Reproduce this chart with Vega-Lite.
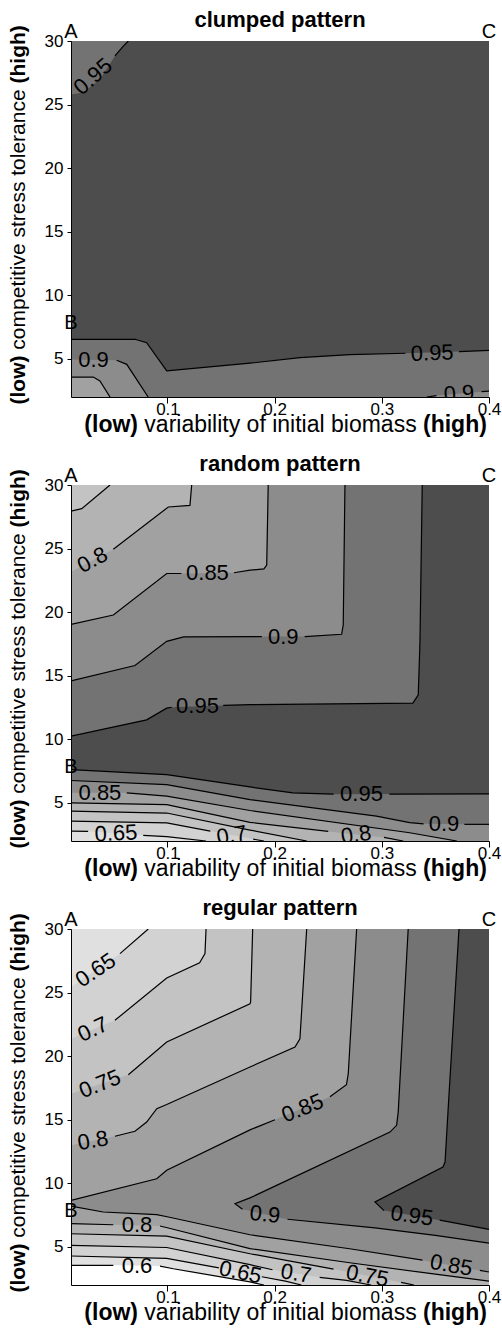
{
"$schema": "https://vega.github.io/schema/vega-lite/v6.json",
"padding": {"left": 7, "right": 4, "top": 9, "bottom": 3},
"spacing": 17,
"config": {
 "view": {"stroke": null, "fill": "#4d4d4d"},
 "font": "Liberation Sans",
 "title": {"fontSize": 22, "fontWeight": "bold", "color": "black", "offset": -10, "font": "Liberation Sans"},
 "axis": {"grid": false, "labelFont": "Liberation Sans", "titleFont": "Liberation Sans", "labelColor": "black", "titleColor": "black", "tickColor": "black", "domainColor": "black", "labelFontSize": 17, "labelFlush": false, "labelOverlap": false},
 "text": {"font": "Liberation Sans"}
},
"datasets": {
"poly": [
{"p":1,"g":1,"lvl":0.95,"s":0,"x":0.01,"y":25.8},{"p":1,"g":1,"lvl":0.95,"s":0,"x":0.0215,"y":25.94},{"p":1,"g":1,"lvl":0.95,"s":0,"x":0.037,"y":27.0},{"p":1,"g":1,"lvl":0.95,"s":1,"x":0.051,"y":28.83},{"p":1,"g":1,"lvl":0.95,"s":1,"x":0.0588,"y":29.6},{"p":1,"g":1,"lvl":0.95,"s":1,"x":0.0635,"y":30},{"p":1,"g":1,"lvl":0.95,"s":0,"x":0.01,"y":30},
{"p":1,"g":2,"lvl":0.95,"s":2,"x":0.01,"y":6.54},{"p":1,"g":2,"lvl":0.95,"s":2,"x":0.0697,"y":6.54},{"p":1,"g":2,"lvl":0.95,"s":2,"x":0.0806,"y":6.27},{"p":1,"g":2,"lvl":0.95,"s":2,"x":0.0993,"y":4.05},{"p":1,"g":2,"lvl":0.95,"s":2,"x":0.177,"y":4.66},{"p":1,"g":2,"lvl":0.95,"s":2,"x":0.2236,"y":5.1},{"p":1,"g":2,"lvl":0.95,"s":2,"x":0.27,"y":5.33},{"p":1,"g":2,"lvl":0.95,"s":2,"x":0.322,"y":5.44},{"p":1,"g":2,"lvl":0.95,"s":3,"x":0.372,"y":5.57},{"p":1,"g":2,"lvl":0.95,"s":3,"x":0.4,"y":5.67},{"p":1,"g":2,"lvl":0.95,"s":0,"x":0.4,"y":2},{"p":1,"g":2,"lvl":0.95,"s":0,"x":0.01,"y":2},
{"p":1,"g":3,"lvl":0.9,"s":0,"x":0.01,"y":4.95},{"p":1,"g":3,"lvl":0.9,"s":4,"x":0.0526,"y":4.89},{"p":1,"g":3,"lvl":0.9,"s":4,"x":0.062,"y":4.57},{"p":1,"g":3,"lvl":0.9,"s":4,"x":0.082,"y":2},{"p":1,"g":3,"lvl":0.9,"s":0,"x":0.01,"y":2},
{"p":1,"g":4,"lvl":0.9,"s":5,"x":0.342,"y":2},{"p":1,"g":4,"lvl":0.9,"s":5,"x":0.351,"y":2.11},{"p":1,"g":4,"lvl":0.9,"s":6,"x":0.393,"y":2.42},{"p":1,"g":4,"lvl":0.9,"s":6,"x":0.4,"y":2.47},{"p":1,"g":4,"lvl":0.9,"s":0,"x":0.4,"y":2},
{"p":1,"g":5,"lvl":0.85,"s":7,"x":0.01,"y":3.57},{"p":1,"g":5,"lvl":0.85,"s":7,"x":0.0308,"y":3.57},{"p":1,"g":5,"lvl":0.85,"s":7,"x":0.037,"y":3.26},{"p":1,"g":5,"lvl":0.85,"s":7,"x":0.0464,"y":2},{"p":1,"g":5,"lvl":0.85,"s":0,"x":0.01,"y":2},

{"p":2,"g":1,"lvl":0.95,"s":11,"x":0.01,"y":10.24},{"p":2,"g":1,"lvl":0.95,"s":11,"x":0.0806,"y":11.53},{"p":2,"g":1,"lvl":0.95,"s":11,"x":0.0993,"y":12.45},{"p":2,"g":1,"lvl":0.95,"s":11,"x":0.104,"y":12.52},{"p":2,"g":1,"lvl":0.95,"s":12,"x":0.152,"y":12.66},{"p":2,"g":1,"lvl":0.95,"s":12,"x":0.177,"y":12.72},{"p":2,"g":1,"lvl":0.95,"s":12,"x":0.329,"y":12.85},{"p":2,"g":1,"lvl":0.95,"s":12,"x":0.334,"y":13.5},{"p":2,"g":1,"lvl":0.95,"s":12,"x":0.3356,"y":17.7},{"p":2,"g":1,"lvl":0.95,"s":12,"x":0.3377,"y":30},{"p":2,"g":1,"lvl":0.95,"s":0,"x":0.01,"y":30},
{"p":2,"g":2,"lvl":0.95,"s":13,"x":0.01,"y":7.62},{"p":2,"g":2,"lvl":0.95,"s":13,"x":0.0993,"y":7.22},{"p":2,"g":2,"lvl":0.95,"s":13,"x":0.177,"y":6.25},{"p":2,"g":2,"lvl":0.95,"s":13,"x":0.217,"y":5.78},{"p":2,"g":2,"lvl":0.95,"s":13,"x":0.255,"y":5.68},{"p":2,"g":2,"lvl":0.95,"s":14,"x":0.307,"y":5.69},{"p":2,"g":2,"lvl":0.95,"s":14,"x":0.4,"y":5.7},{"p":2,"g":2,"lvl":0.95,"s":0,"x":0.4,"y":2},{"p":2,"g":2,"lvl":0.95,"s":0,"x":0.01,"y":2},
{"p":2,"g":3,"lvl":0.9,"s":15,"x":0.01,"y":14.6},{"p":2,"g":3,"lvl":0.9,"s":15,"x":0.0697,"y":15.8},{"p":2,"g":3,"lvl":0.9,"s":15,"x":0.0993,"y":17.7},{"p":2,"g":3,"lvl":0.9,"s":15,"x":0.115,"y":18.05},{"p":2,"g":3,"lvl":0.9,"s":15,"x":0.188,"y":18.08},{"p":2,"g":3,"lvl":0.9,"s":16,"x":0.228,"y":18.08},{"p":2,"g":3,"lvl":0.9,"s":16,"x":0.2625,"y":18.26},{"p":2,"g":3,"lvl":0.9,"s":16,"x":0.264,"y":19},{"p":2,"g":3,"lvl":0.9,"s":16,"x":0.2656,"y":30},{"p":2,"g":3,"lvl":0.9,"s":0,"x":0.01,"y":30},
{"p":2,"g":4,"lvl":0.9,"s":17,"x":0.01,"y":6.76},{"p":2,"g":4,"lvl":0.9,"s":17,"x":0.0993,"y":6.44},{"p":2,"g":4,"lvl":0.9,"s":17,"x":0.177,"y":5.25},{"p":2,"g":4,"lvl":0.9,"s":17,"x":0.295,"y":3.96},{"p":2,"g":4,"lvl":0.9,"s":17,"x":0.326,"y":3.44},{"p":2,"g":4,"lvl":0.9,"s":17,"x":0.339,"y":3.35},{"p":2,"g":4,"lvl":0.9,"s":18,"x":0.377,"y":3.31},{"p":2,"g":4,"lvl":0.9,"s":18,"x":0.4,"y":3.31},{"p":2,"g":4,"lvl":0.9,"s":0,"x":0.4,"y":2},{"p":2,"g":4,"lvl":0.9,"s":0,"x":0.01,"y":2},
{"p":2,"g":5,"lvl":0.85,"s":19,"x":0.01,"y":19.04},{"p":2,"g":5,"lvl":0.85,"s":19,"x":0.0495,"y":19.77},{"p":2,"g":5,"lvl":0.85,"s":19,"x":0.0993,"y":23.04},{"p":2,"g":5,"lvl":0.85,"s":19,"x":0.113,"y":23.04},{"p":2,"g":5,"lvl":0.85,"s":20,"x":0.162,"y":23.1},{"p":2,"g":5,"lvl":0.85,"s":20,"x":0.177,"y":23.3},{"p":2,"g":5,"lvl":0.85,"s":20,"x":0.19,"y":23.4},{"p":2,"g":5,"lvl":0.85,"s":20,"x":0.1926,"y":23.7},{"p":2,"g":5,"lvl":0.85,"s":20,"x":0.194,"y":30},{"p":2,"g":5,"lvl":0.85,"s":0,"x":0.01,"y":30},
{"p":2,"g":6,"lvl":0.85,"s":0,"x":0.01,"y":5.79},{"p":2,"g":6,"lvl":0.85,"s":21,"x":0.062,"y":5.79},{"p":2,"g":6,"lvl":0.85,"s":21,"x":0.0993,"y":5.53},{"p":2,"g":6,"lvl":0.85,"s":21,"x":0.177,"y":4.4},{"p":2,"g":6,"lvl":0.85,"s":21,"x":0.326,"y":2.65},{"p":2,"g":6,"lvl":0.85,"s":21,"x":0.37,"y":2},{"p":2,"g":6,"lvl":0.85,"s":0,"x":0.01,"y":2},
{"p":2,"g":7,"lvl":0.8,"s":0,"x":0.01,"y":23.18},{"p":2,"g":7,"lvl":0.8,"s":22,"x":0.0495,"y":24.94},{"p":2,"g":7,"lvl":0.8,"s":22,"x":0.1008,"y":28.27},{"p":2,"g":7,"lvl":0.8,"s":22,"x":0.121,"y":28.4},{"p":2,"g":7,"lvl":0.8,"s":22,"x":0.1226,"y":30},{"p":2,"g":7,"lvl":0.8,"s":0,"x":0.01,"y":30},
{"p":2,"g":8,"lvl":0.8,"s":23,"x":0.01,"y":5.0},{"p":2,"g":8,"lvl":0.8,"s":23,"x":0.0993,"y":4.86},{"p":2,"g":8,"lvl":0.8,"s":23,"x":0.177,"y":3.47},{"p":2,"g":8,"lvl":0.8,"s":23,"x":0.25,"y":2.75},{"p":2,"g":8,"lvl":0.8,"s":24,"x":0.302,"y":2.28},{"p":2,"g":8,"lvl":0.8,"s":24,"x":0.32,"y":2},{"p":2,"g":8,"lvl":0.8,"s":0,"x":0.01,"y":2},
{"p":2,"g":9,"lvl":0.75,"s":25,"x":0.01,"y":27.94},{"p":2,"g":9,"lvl":0.75,"s":25,"x":0.02,"y":28.14},{"p":2,"g":9,"lvl":0.75,"s":25,"x":0.0464,"y":30},{"p":2,"g":9,"lvl":0.75,"s":0,"x":0.01,"y":30},
{"p":2,"g":10,"lvl":0.75,"s":26,"x":0.01,"y":4.35},{"p":2,"g":10,"lvl":0.75,"s":26,"x":0.0993,"y":4.2},{"p":2,"g":10,"lvl":0.75,"s":26,"x":0.177,"y":2.86},{"p":2,"g":10,"lvl":0.75,"s":26,"x":0.23,"y":2},{"p":2,"g":10,"lvl":0.75,"s":0,"x":0.01,"y":2},
{"p":2,"g":11,"lvl":0.7,"s":27,"x":0.01,"y":3.57},{"p":2,"g":11,"lvl":0.7,"s":27,"x":0.0993,"y":3.42},{"p":2,"g":11,"lvl":0.7,"s":27,"x":0.14,"y":2.78},{"p":2,"g":11,"lvl":0.7,"s":28,"x":0.18,"y":2.15},{"p":2,"g":11,"lvl":0.7,"s":28,"x":0.19,"y":2},{"p":2,"g":11,"lvl":0.7,"s":0,"x":0.01,"y":2},
{"p":2,"g":12,"lvl":0.65,"s":29,"x":0.01,"y":2.78},{"p":2,"g":12,"lvl":0.65,"s":29,"x":0.026,"y":2.76},{"p":2,"g":12,"lvl":0.65,"s":30,"x":0.0774,"y":2.45},{"p":2,"g":12,"lvl":0.65,"s":30,"x":0.0993,"y":2.35},{"p":2,"g":12,"lvl":0.65,"s":30,"x":0.136,"y":2},{"p":2,"g":12,"lvl":0.65,"s":0,"x":0.01,"y":2},

{"p":3,"g":1,"lvl":0.95,"s":31,"x":0.372,"y":30},{"p":3,"g":1,"lvl":0.95,"s":31,"x":0.362,"y":16},{"p":3,"g":1,"lvl":0.95,"s":31,"x":0.359,"y":11.67},{"p":3,"g":1,"lvl":0.95,"s":31,"x":0.357,"y":11.28},{"p":3,"g":1,"lvl":0.95,"s":31,"x":0.2936,"y":8.53},{"p":3,"g":1,"lvl":0.95,"s":31,"x":0.302,"y":7.85},{"p":3,"g":1,"lvl":0.95,"s":32,"x":0.354,"y":7.1},{"p":3,"g":1,"lvl":0.95,"s":32,"x":0.4,"y":6.38},{"p":3,"g":1,"lvl":0.95,"s":0,"x":0.4,"y":2},{"p":3,"g":1,"lvl":0.95,"s":0,"x":0.01,"y":2},{"p":3,"g":1,"lvl":0.95,"s":0,"x":0.01,"y":30},
{"p":3,"g":2,"lvl":0.9,"s":33,"x":0.3246,"y":30},{"p":3,"g":2,"lvl":0.9,"s":33,"x":0.3153,"y":15.6},{"p":3,"g":2,"lvl":0.9,"s":33,"x":0.3138,"y":14.56},{"p":3,"g":2,"lvl":0.9,"s":33,"x":0.3076,"y":14.03},{"p":3,"g":2,"lvl":0.9,"s":33,"x":0.177,"y":8.85},{"p":3,"g":2,"lvl":0.9,"s":33,"x":0.163,"y":8.4},{"p":3,"g":2,"lvl":0.9,"s":33,"x":0.17,"y":7.95},{"p":3,"g":2,"lvl":0.9,"s":34,"x":0.212,"y":7.17},{"p":3,"g":2,"lvl":0.9,"s":34,"x":0.2936,"y":6.5},{"p":3,"g":2,"lvl":0.9,"s":34,"x":0.35,"y":5.9},{"p":3,"g":2,"lvl":0.9,"s":34,"x":0.4,"y":5.3},{"p":3,"g":2,"lvl":0.9,"s":0,"x":0.4,"y":2},{"p":3,"g":2,"lvl":0.9,"s":0,"x":0.01,"y":2},{"p":3,"g":2,"lvl":0.9,"s":0,"x":0.01,"y":30},
{"p":3,"g":3,"lvl":0.85,"s":35,"x":0.2765,"y":30},{"p":3,"g":3,"lvl":0.85,"s":35,"x":0.2687,"y":18.62},{"p":3,"g":3,"lvl":0.85,"s":35,"x":0.267,"y":17.75},{"p":3,"g":3,"lvl":0.85,"s":35,"x":0.2516,"y":16.8},{"p":3,"g":3,"lvl":0.85,"s":36,"x":0.2003,"y":15.0},{"p":3,"g":3,"lvl":0.85,"s":36,"x":0.177,"y":14.2},{"p":3,"g":3,"lvl":0.85,"s":36,"x":0.0993,"y":11.02},{"p":3,"g":3,"lvl":0.85,"s":36,"x":0.09,"y":10.36},{"p":3,"g":3,"lvl":0.85,"s":36,"x":0.01,"y":8.66},{"p":3,"g":3,"lvl":0.85,"s":0,"x":0.01,"y":30},
{"p":3,"g":4,"lvl":0.85,"s":37,"x":0.01,"y":8.21},{"p":3,"g":4,"lvl":0.85,"s":37,"x":0.04,"y":7.74},{"p":3,"g":4,"lvl":0.85,"s":37,"x":0.09,"y":7.53},{"p":3,"g":4,"lvl":0.85,"s":37,"x":0.1008,"y":7.35},{"p":3,"g":4,"lvl":0.85,"s":37,"x":0.177,"y":5.95},{"p":3,"g":4,"lvl":0.85,"s":37,"x":0.27,"y":4.85},{"p":3,"g":4,"lvl":0.85,"s":37,"x":0.338,"y":3.95},{"p":3,"g":4,"lvl":0.85,"s":38,"x":0.3915,"y":3.15},{"p":3,"g":4,"lvl":0.85,"s":38,"x":0.4,"y":3.02},{"p":3,"g":4,"lvl":0.85,"s":0,"x":0.4,"y":2},{"p":3,"g":4,"lvl":0.85,"s":0,"x":0.01,"y":2},
{"p":3,"g":5,"lvl":0.8,"s":39,"x":0.2299,"y":30},{"p":3,"g":5,"lvl":0.8,"s":39,"x":0.2236,"y":21.37},{"p":3,"g":5,"lvl":0.8,"s":39,"x":0.219,"y":20.72},{"p":3,"g":5,"lvl":0.8,"s":39,"x":0.177,"y":19.15},{"p":3,"g":5,"lvl":0.8,"s":39,"x":0.0993,"y":16.2},{"p":3,"g":5,"lvl":0.8,"s":39,"x":0.09,"y":15.87},{"p":3,"g":5,"lvl":0.8,"s":39,"x":0.0806,"y":14.82},{"p":3,"g":5,"lvl":0.8,"s":39,"x":0.0697,"y":14.09},{"p":3,"g":5,"lvl":0.8,"s":39,"x":0.051,"y":13.7},{"p":3,"g":5,"lvl":0.8,"s":0,"x":0.01,"y":12.99},{"p":3,"g":5,"lvl":0.8,"s":0,"x":0.01,"y":30},
{"p":3,"g":6,"lvl":0.8,"s":40,"x":0.01,"y":6.82},{"p":3,"g":6,"lvl":0.8,"s":40,"x":0.0495,"y":6.74},{"p":3,"g":6,"lvl":0.8,"s":41,"x":0.093,"y":6.64},{"p":3,"g":6,"lvl":0.8,"s":41,"x":0.1008,"y":6.48},{"p":3,"g":6,"lvl":0.8,"s":41,"x":0.177,"y":4.86},{"p":3,"g":6,"lvl":0.8,"s":41,"x":0.27,"y":3.75},{"p":3,"g":6,"lvl":0.8,"s":41,"x":0.35,"y":2.85},{"p":3,"g":6,"lvl":0.8,"s":41,"x":0.4,"y":2.3},{"p":3,"g":6,"lvl":0.8,"s":0,"x":0.4,"y":2},{"p":3,"g":6,"lvl":0.8,"s":0,"x":0.01,"y":2},
{"p":3,"g":7,"lvl":0.75,"s":42,"x":0.1795,"y":30},{"p":3,"g":7,"lvl":0.75,"s":42,"x":0.1776,"y":24.26},{"p":3,"g":7,"lvl":0.75,"s":42,"x":0.177,"y":24.12},{"p":3,"g":7,"lvl":0.75,"s":42,"x":0.0993,"y":21.11},{"p":3,"g":7,"lvl":0.75,"s":42,"x":0.0635,"y":18.54},{"p":3,"g":7,"lvl":0.75,"s":0,"x":0.01,"y":17.05},{"p":3,"g":7,"lvl":0.75,"s":0,"x":0.01,"y":30},
{"p":3,"g":8,"lvl":0.75,"s":43,"x":0.01,"y":6.03},{"p":3,"g":8,"lvl":0.75,"s":43,"x":0.0993,"y":5.85},{"p":3,"g":8,"lvl":0.75,"s":43,"x":0.177,"y":4.46},{"p":3,"g":8,"lvl":0.75,"s":43,"x":0.255,"y":3.25},{"p":3,"g":8,"lvl":0.75,"s":44,"x":0.318,"y":2.2},{"p":3,"g":8,"lvl":0.75,"s":44,"x":0.33,"y":2},{"p":3,"g":8,"lvl":0.75,"s":0,"x":0.01,"y":2},
{"p":3,"g":9,"lvl":0.7,"s":45,"x":0.136,"y":30},{"p":3,"g":9,"lvl":0.7,"s":45,"x":0.135,"y":28.06},{"p":3,"g":9,"lvl":0.7,"s":45,"x":0.13,"y":27.35},{"p":3,"g":9,"lvl":0.7,"s":45,"x":0.0993,"y":26.15},{"p":3,"g":9,"lvl":0.7,"s":45,"x":0.051,"y":22.82},{"p":3,"g":9,"lvl":0.7,"s":0,"x":0.01,"y":21.37},{"p":3,"g":9,"lvl":0.7,"s":0,"x":0.01,"y":30},
{"p":3,"g":10,"lvl":0.7,"s":46,"x":0.01,"y":5.12},{"p":3,"g":10,"lvl":0.7,"s":46,"x":0.0993,"y":4.95},{"p":3,"g":10,"lvl":0.7,"s":46,"x":0.177,"y":3.6},{"p":3,"g":10,"lvl":0.7,"s":46,"x":0.198,"y":3.2},{"p":3,"g":10,"lvl":0.7,"s":47,"x":0.242,"y":2.6},{"p":3,"g":10,"lvl":0.7,"s":47,"x":0.267,"y":2.37},{"p":3,"g":10,"lvl":0.7,"s":47,"x":0.29,"y":2},{"p":3,"g":10,"lvl":0.7,"s":0,"x":0.01,"y":2},
{"p":3,"g":11,"lvl":0.65,"s":48,"x":0.0821,"y":30},{"p":3,"g":11,"lvl":0.65,"s":48,"x":0.0557,"y":28.06},{"p":3,"g":11,"lvl":0.65,"s":0,"x":0.01,"y":25.44},{"p":3,"g":11,"lvl":0.65,"s":0,"x":0.01,"y":30},
{"p":3,"g":12,"lvl":0.65,"s":49,"x":0.01,"y":4.28},{"p":3,"g":12,"lvl":0.65,"s":49,"x":0.0993,"y":4.1},{"p":3,"g":12,"lvl":0.65,"s":49,"x":0.148,"y":3.35},{"p":3,"g":12,"lvl":0.65,"s":50,"x":0.188,"y":2.65},{"p":3,"g":12,"lvl":0.65,"s":50,"x":0.21,"y":2.3},{"p":3,"g":12,"lvl":0.65,"s":50,"x":0.225,"y":2},{"p":3,"g":12,"lvl":0.65,"s":0,"x":0.01,"y":2},
{"p":3,"g":13,"lvl":0.6,"s":51,"x":0.01,"y":3.55},{"p":3,"g":13,"lvl":0.6,"s":51,"x":0.0495,"y":3.55},{"p":3,"g":13,"lvl":0.6,"s":52,"x":0.093,"y":3.49},{"p":3,"g":13,"lvl":0.6,"s":52,"x":0.1055,"y":3.28},{"p":3,"g":13,"lvl":0.6,"s":52,"x":0.177,"y":2.24},{"p":3,"g":13,"lvl":0.6,"s":52,"x":0.19,"y":2},{"p":3,"g":13,"lvl":0.6,"s":0,"x":0.01,"y":2}
],
"lab": [
{"p":1,"t":"0.95","x":0.0305,"y":27.2,"a":-41},{"p":1,"t":"0.9","x":0.031,"y":4.9,"a":0},{"p":1,"t":"0.95","x":0.347,"y":5.45,"a":-2},{"p":1,"t":"0.9","x":0.372,"y":2.25,"a":-4},
{"p":2,"t":"0.8","x":0.03,"y":24.1,"a":-28},{"p":2,"t":"0.85","x":0.1373,"y":23.04,"a":0},{"p":2,"t":"0.9","x":0.208,"y":18.08,"a":0},{"p":2,"t":"0.95","x":0.128,"y":12.6,"a":0},{"p":2,"t":"0.95","x":0.281,"y":5.68,"a":0},{"p":2,"t":"0.9","x":0.358,"y":3.33,"a":0},{"p":2,"t":"0.85","x":0.037,"y":5.79,"a":0},{"p":2,"t":"0.8","x":0.276,"y":2.5,"a":-8},{"p":2,"t":"0.7","x":0.16,"y":2.45,"a":-10},{"p":2,"t":"0.65","x":0.052,"y":2.6,"a":-3},
{"p":3,"t":"0.65","x":0.033,"y":26.75,"a":-34},{"p":3,"t":"0.7","x":0.0305,"y":22.1,"a":-25},{"p":3,"t":"0.75","x":0.037,"y":17.8,"a":-22},{"p":3,"t":"0.8","x":0.0305,"y":13.35,"a":-10},{"p":3,"t":"0.85","x":0.226,"y":15.9,"a":-22},{"p":3,"t":"0.9","x":0.191,"y":7.55,"a":6},{"p":3,"t":"0.95","x":0.328,"y":7.45,"a":8},{"p":3,"t":"0.8","x":0.0716,"y":6.7,"a":0},{"p":3,"t":"0.6","x":0.0716,"y":3.5,"a":0},{"p":3,"t":"0.65","x":0.168,"y":3.0,"a":12},{"p":3,"t":"0.7","x":0.22,"y":2.9,"a":9},{"p":3,"t":"0.75","x":0.2865,"y":2.72,"a":11},{"p":3,"t":"0.85","x":0.3648,"y":3.55,"a":10}
],
"abc": [
{"t":"A","x":0.01,"y":30,"k":"top"},{"t":"C","x":0.4,"y":30,"k":"top"},{"t":"B","x":0.01,"y":7.8,"k":"mid"}
]
},
"vconcat": [
{
 "width": 418, "height": 356,
 "title": {"text": "clumped pattern"},
 "resolve": {"axis": {"x": "independent", "y": "independent"}},
 "layer": [
  {"data": {"name": "poly"}, "transform": [{"filter": "datum.p == 1"}],
   "mark": {"type": "line", "filled": true, "clip": true},
   "encoding": {
    "x": {"field": "x", "type": "quantitative", "scale": {"domain": [0.01, 0.4], "nice": false, "zero": false}, "axis": {"orient": "bottom", "values": [0.1, 0.2, 0.3, 0.4], "format": ".1f", "tickSize": 6, "labelPadding": -2, "zindex": 1, "title": "(low)", "titleFontWeight": "bold", "titleFontSize": 23, "titleAlign": "right", "titleX": 66.5, "titleY": 34, "titleBaseline": "alphabetic"}},
    "y": {"field": "y", "type": "quantitative", "scale": {"domain": [2, 30], "nice": false, "zero": false}, "axis": {"orient": "left", "values": [5, 10, 15, 20, 25, 30], "tickSize": 4, "labelPadding": 4, "zindex": 1, "title": "(low)", "titleFontWeight": "bold", "titleFontSize": 21, "titleAngle": -90, "titleAlign": "right", "titleX": -47, "titleY": 314, "titleBaseline": "alphabetic"}},
    "detail": {"field": "g", "type": "nominal"},
    "order": {"value": null},
    "color": {"field": "lvl", "type": "ordinal", "scale": {"domain": [0.95, 0.9, 0.85, 0.8, 0.75, 0.7, 0.65, 0.6], "range": ["#737373", "#8c8c8c", "#a1a1a1", "#b3b3b3", "#c3c3c3", "#d2d2d2", "#e0e0e0", "#ffffff"]}, "legend": null}
   }},
  {"data": {"name": "poly"}, "transform": [{"filter": "datum.p == 1 && datum.s > 0"}],
   "mark": {"type": "line", "color": "black", "strokeWidth": 1.2, "clip": true},
   "encoding": {
    "x": {"field": "x", "type": "quantitative", "scale": {"domain": [0.01, 0.4], "nice": false, "zero": false}, "axis": {"orient": "bottom", "labels": false, "ticks": false, "domain": false, "title": "variability of initial biomass", "titleFontWeight": "normal", "titleFontSize": 23, "titleAlign": "center", "titleX": 209, "titleY": 34, "titleBaseline": "alphabetic"}},
    "y": {"field": "y", "type": "quantitative", "scale": {"domain": [2, 30], "nice": false, "zero": false}, "axis": {"orient": "left", "labels": false, "ticks": false, "domain": false, "title": "competitive stress tolerance", "titleFontWeight": "normal", "titleFontSize": 21, "titleAngle": -90, "titleAlign": "center", "titleX": -47, "titleY": 178, "titleBaseline": "alphabetic"}},
    "detail": {"field": "s", "type": "nominal"},
    "order": {"value": null}
   }},
  {"data": {"name": "lab"}, "transform": [{"filter": "datum.p == 1"}],
   "mark": {"type": "text", "fontSize": 22, "align": "center", "baseline": "middle", "clip": true, "color": "black"},
   "encoding": {
    "x": {"field": "x", "type": "quantitative", "scale": {"domain": [0.01, 0.4], "nice": false, "zero": false}, "axis": {"orient": "bottom", "labels": false, "ticks": false, "domain": false, "title": "(high)", "titleFontWeight": "bold", "titleFontSize": 23, "titleAlign": "left", "titleX": 351.5, "titleY": 34, "titleBaseline": "alphabetic"}},
    "y": {"field": "y", "type": "quantitative", "scale": {"domain": [2, 30], "nice": false, "zero": false}, "axis": {"orient": "left", "labels": false, "ticks": false, "domain": false, "title": "(high)", "titleFontWeight": "bold", "titleFontSize": 21, "titleAngle": -90, "titleAlign": "left", "titleX": -47, "titleY": 42, "titleBaseline": "alphabetic"}},
    "text": {"field": "t", "type": "nominal"},
    "angle": {"field": "a", "type": "quantitative", "scale": null}
   }},
  {"data": {"name": "abc"}, "transform": [{"filter": "datum.k == 'top'"}],
   "mark": {"type": "text", "fontSize": 20, "align": "center", "baseline": "alphabetic", "dy": -3, "color": "black"},
   "encoding": {"x": {"field": "x", "type": "quantitative", "axis": null}, "y": {"field": "y", "type": "quantitative", "axis": null}, "text": {"field": "t", "type": "nominal"}}},
  {"data": {"name": "abc"}, "transform": [{"filter": "datum.k == 'mid'"}],
   "mark": {"type": "text", "fontSize": 20, "align": "center", "baseline": "middle", "color": "black"},
   "encoding": {"x": {"field": "x", "type": "quantitative", "axis": null}, "y": {"field": "y", "type": "quantitative", "axis": null}, "text": {"field": "t", "type": "nominal"}}}
 ]
},
{
 "width": 418, "height": 356,
 "title": {"text": "random pattern"},
 "resolve": {"axis": {"x": "independent", "y": "independent"}},
 "layer": [
  {"data": {"name": "poly"}, "transform": [{"filter": "datum.p == 2"}],
   "mark": {"type": "line", "filled": true, "clip": true},
   "encoding": {
    "x": {"field": "x", "type": "quantitative", "scale": {"domain": [0.01, 0.4], "nice": false, "zero": false}, "axis": {"orient": "bottom", "values": [0.1, 0.2, 0.3, 0.4], "format": ".1f", "tickSize": 6, "labelPadding": -2, "zindex": 1, "title": "(low)", "titleFontWeight": "bold", "titleFontSize": 23, "titleAlign": "right", "titleX": 66.5, "titleY": 34, "titleBaseline": "alphabetic"}},
    "y": {"field": "y", "type": "quantitative", "scale": {"domain": [2, 30], "nice": false, "zero": false}, "axis": {"orient": "left", "values": [5, 10, 15, 20, 25, 30], "tickSize": 4, "labelPadding": 4, "zindex": 1, "title": "(low)", "titleFontWeight": "bold", "titleFontSize": 21, "titleAngle": -90, "titleAlign": "right", "titleX": -47, "titleY": 314, "titleBaseline": "alphabetic"}},
    "detail": {"field": "g", "type": "nominal"},
    "order": {"value": null},
    "color": {"field": "lvl", "type": "ordinal", "scale": {"domain": [0.95, 0.9, 0.85, 0.8, 0.75, 0.7, 0.65, 0.6], "range": ["#737373", "#8c8c8c", "#a1a1a1", "#b3b3b3", "#c3c3c3", "#d2d2d2", "#e0e0e0", "#ffffff"]}, "legend": null}
   }},
  {"data": {"name": "poly"}, "transform": [{"filter": "datum.p == 2 && datum.s > 0"}],
   "mark": {"type": "line", "color": "black", "strokeWidth": 1.2, "clip": true},
   "encoding": {
    "x": {"field": "x", "type": "quantitative", "scale": {"domain": [0.01, 0.4], "nice": false, "zero": false}, "axis": {"orient": "bottom", "labels": false, "ticks": false, "domain": false, "title": "variability of initial biomass", "titleFontWeight": "normal", "titleFontSize": 23, "titleAlign": "center", "titleX": 209, "titleY": 34, "titleBaseline": "alphabetic"}},
    "y": {"field": "y", "type": "quantitative", "scale": {"domain": [2, 30], "nice": false, "zero": false}, "axis": {"orient": "left", "labels": false, "ticks": false, "domain": false, "title": "competitive stress tolerance", "titleFontWeight": "normal", "titleFontSize": 21, "titleAngle": -90, "titleAlign": "center", "titleX": -47, "titleY": 178, "titleBaseline": "alphabetic"}},
    "detail": {"field": "s", "type": "nominal"},
    "order": {"value": null}
   }},
  {"data": {"name": "lab"}, "transform": [{"filter": "datum.p == 2"}],
   "mark": {"type": "text", "fontSize": 22, "align": "center", "baseline": "middle", "clip": true, "color": "black"},
   "encoding": {
    "x": {"field": "x", "type": "quantitative", "scale": {"domain": [0.01, 0.4], "nice": false, "zero": false}, "axis": {"orient": "bottom", "labels": false, "ticks": false, "domain": false, "title": "(high)", "titleFontWeight": "bold", "titleFontSize": 23, "titleAlign": "left", "titleX": 351.5, "titleY": 34, "titleBaseline": "alphabetic"}},
    "y": {"field": "y", "type": "quantitative", "scale": {"domain": [2, 30], "nice": false, "zero": false}, "axis": {"orient": "left", "labels": false, "ticks": false, "domain": false, "title": "(high)", "titleFontWeight": "bold", "titleFontSize": 21, "titleAngle": -90, "titleAlign": "left", "titleX": -47, "titleY": 42, "titleBaseline": "alphabetic"}},
    "text": {"field": "t", "type": "nominal"},
    "angle": {"field": "a", "type": "quantitative", "scale": null}
   }},
  {"data": {"name": "abc"}, "transform": [{"filter": "datum.k == 'top'"}],
   "mark": {"type": "text", "fontSize": 20, "align": "center", "baseline": "alphabetic", "dy": -3, "color": "black"},
   "encoding": {"x": {"field": "x", "type": "quantitative", "axis": null}, "y": {"field": "y", "type": "quantitative", "axis": null}, "text": {"field": "t", "type": "nominal"}}},
  {"data": {"name": "abc"}, "transform": [{"filter": "datum.k == 'mid'"}],
   "mark": {"type": "text", "fontSize": 20, "align": "center", "baseline": "middle", "color": "black"},
   "encoding": {"x": {"field": "x", "type": "quantitative", "axis": null}, "y": {"field": "y", "type": "quantitative", "axis": null}, "text": {"field": "t", "type": "nominal"}}}
 ]
},
{
 "width": 418, "height": 356,
 "title": {"text": "regular pattern"},
 "resolve": {"axis": {"x": "independent", "y": "independent"}},
 "layer": [
  {"data": {"name": "poly"}, "transform": [{"filter": "datum.p == 3"}],
   "mark": {"type": "line", "filled": true, "clip": true},
   "encoding": {
    "x": {"field": "x", "type": "quantitative", "scale": {"domain": [0.01, 0.4], "nice": false, "zero": false}, "axis": {"orient": "bottom", "values": [0.1, 0.2, 0.3, 0.4], "format": ".1f", "tickSize": 6, "labelPadding": -2, "zindex": 1, "title": "(low)", "titleFontWeight": "bold", "titleFontSize": 23, "titleAlign": "right", "titleX": 66.5, "titleY": 34, "titleBaseline": "alphabetic"}},
    "y": {"field": "y", "type": "quantitative", "scale": {"domain": [2, 30], "nice": false, "zero": false}, "axis": {"orient": "left", "values": [5, 10, 15, 20, 25, 30], "tickSize": 4, "labelPadding": 4, "zindex": 1, "title": "(low)", "titleFontWeight": "bold", "titleFontSize": 21, "titleAngle": -90, "titleAlign": "right", "titleX": -47, "titleY": 314, "titleBaseline": "alphabetic"}},
    "detail": {"field": "g", "type": "nominal"},
    "order": {"value": null},
    "color": {"field": "lvl", "type": "ordinal", "scale": {"domain": [0.95, 0.9, 0.85, 0.8, 0.75, 0.7, 0.65, 0.6], "range": ["#737373", "#8c8c8c", "#a1a1a1", "#b3b3b3", "#c3c3c3", "#d2d2d2", "#e0e0e0", "#ffffff"]}, "legend": null}
   }},
  {"data": {"name": "poly"}, "transform": [{"filter": "datum.p == 3 && datum.s > 0"}],
   "mark": {"type": "line", "color": "black", "strokeWidth": 1.2, "clip": true},
   "encoding": {
    "x": {"field": "x", "type": "quantitative", "scale": {"domain": [0.01, 0.4], "nice": false, "zero": false}, "axis": {"orient": "bottom", "labels": false, "ticks": false, "domain": false, "title": "variability of initial biomass", "titleFontWeight": "normal", "titleFontSize": 23, "titleAlign": "center", "titleX": 209, "titleY": 34, "titleBaseline": "alphabetic"}},
    "y": {"field": "y", "type": "quantitative", "scale": {"domain": [2, 30], "nice": false, "zero": false}, "axis": {"orient": "left", "labels": false, "ticks": false, "domain": false, "title": "competitive stress tolerance", "titleFontWeight": "normal", "titleFontSize": 21, "titleAngle": -90, "titleAlign": "center", "titleX": -47, "titleY": 178, "titleBaseline": "alphabetic"}},
    "detail": {"field": "s", "type": "nominal"},
    "order": {"value": null}
   }},
  {"data": {"name": "lab"}, "transform": [{"filter": "datum.p == 3"}],
   "mark": {"type": "text", "fontSize": 22, "align": "center", "baseline": "middle", "clip": true, "color": "black"},
   "encoding": {
    "x": {"field": "x", "type": "quantitative", "scale": {"domain": [0.01, 0.4], "nice": false, "zero": false}, "axis": {"orient": "bottom", "labels": false, "ticks": false, "domain": false, "title": "(high)", "titleFontWeight": "bold", "titleFontSize": 23, "titleAlign": "left", "titleX": 351.5, "titleY": 34, "titleBaseline": "alphabetic"}},
    "y": {"field": "y", "type": "quantitative", "scale": {"domain": [2, 30], "nice": false, "zero": false}, "axis": {"orient": "left", "labels": false, "ticks": false, "domain": false, "title": "(high)", "titleFontWeight": "bold", "titleFontSize": 21, "titleAngle": -90, "titleAlign": "left", "titleX": -47, "titleY": 42, "titleBaseline": "alphabetic"}},
    "text": {"field": "t", "type": "nominal"},
    "angle": {"field": "a", "type": "quantitative", "scale": null}
   }},
  {"data": {"name": "abc"}, "transform": [{"filter": "datum.k == 'top'"}],
   "mark": {"type": "text", "fontSize": 20, "align": "center", "baseline": "alphabetic", "dy": -3, "color": "black"},
   "encoding": {"x": {"field": "x", "type": "quantitative", "axis": null}, "y": {"field": "y", "type": "quantitative", "axis": null}, "text": {"field": "t", "type": "nominal"}}},
  {"data": {"name": "abc"}, "transform": [{"filter": "datum.k == 'mid'"}],
   "mark": {"type": "text", "fontSize": 20, "align": "center", "baseline": "middle", "color": "black"},
   "encoding": {"x": {"field": "x", "type": "quantitative", "axis": null}, "y": {"field": "y", "type": "quantitative", "axis": null}, "text": {"field": "t", "type": "nominal"}}}
 ]
}
]
}
